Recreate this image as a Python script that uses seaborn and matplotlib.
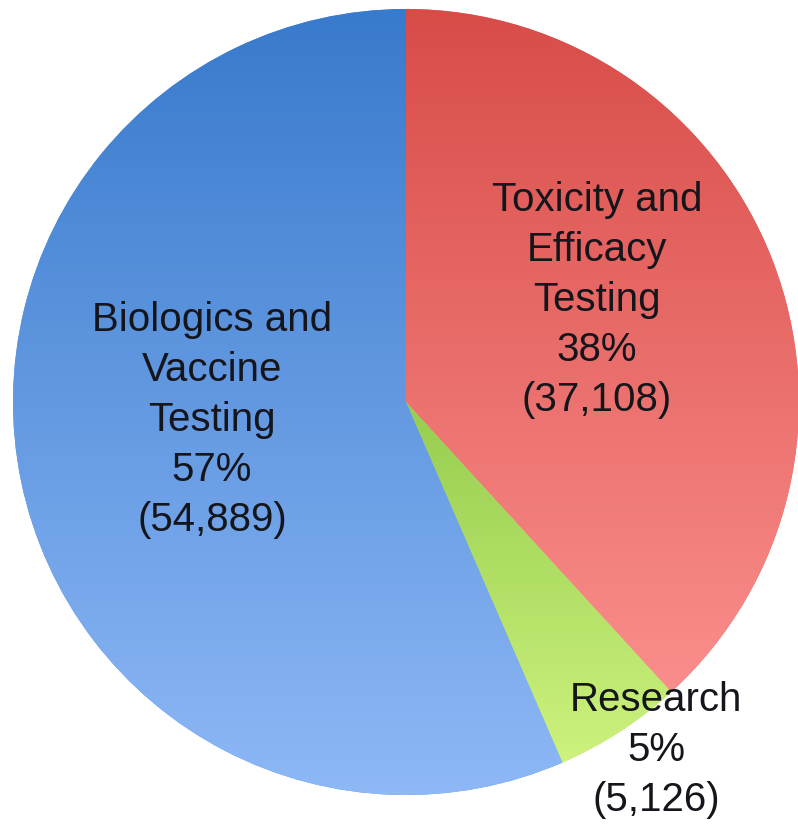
import numpy as np
import matplotlib
matplotlib.use("Agg")
import matplotlib.pyplot as plt
import seaborn as sns
from matplotlib.colors import LinearSegmentedColormap

categories = ["Toxicity and\nEfficacy\nTesting", "Research", "Biologics and\nVaccine\nTesting"]
values = [37108, 5126, 54889]
percents = ["38%", "5%", "57%"]
counts = ["(37,108)", "(5,126)", "(54,889)"]

sns.set_theme(style="white")
plt.rcParams['font.family'] = ['Liberation Sans', 'DejaVu Sans']

W, H = 798, 828
fig = plt.figure(figsize=(W / 100, H / 100), dpi=100)
ax = fig.add_axes([0, 0, 1, 1])
ax.set_xlim(0, W)
ax.set_ylim(0, H)
ax.set_aspect('equal')
ax.axis('off')

cx, cy, r = 406, H - 403, 393
wedges, _ = ax.pie(values, startangle=90, counterclock=False, center=(cx, cy),
                   radius=r, frame=True,
                   colors=["#e8605c", "#b8e46e", "#5d95de"],
                   wedgeprops=dict(linewidth=0))
ax.set_xlim(0, W)
ax.set_ylim(0, H)
ax.axis('off')

grads = [((216, 76, 72), (250, 142, 140)),
         ((150, 205, 80), (205, 242, 125)),
         ((56, 122, 204), (142, 184, 246))]
fig.canvas.draw()
for w, (top, bot) in zip(wedges, grads):
    bb = w.get_path().get_extents(w.get_patch_transform())
    cmap = LinearSegmentedColormap.from_list("g", [np.array(bot) / 255, np.array(top) / 255])
    grad = np.linspace(0, 1, 256).reshape(-1, 1)
    im = ax.imshow(grad, cmap=cmap, aspect='auto', origin='lower',
                   extent=[bb.x0, bb.x1, bb.y0, bb.y1], zorder=1.5)
    im.set_clip_path(w)
ax.set_xlim(0, W)
ax.set_ylim(0, H)

label_pos = [(597, H - 300), (656, H - 750), (212, H - 420)]
for cat, p, c, (x, y) in zip(categories, percents, counts, label_pos):
    ax.text(x, y, f"{cat}\n{p}\n{c}", ha='center', va='center', fontsize=29,
            color="#15151c", linespacing=1.4, zorder=3)

fig.savefig("out.png", dpi=100)
